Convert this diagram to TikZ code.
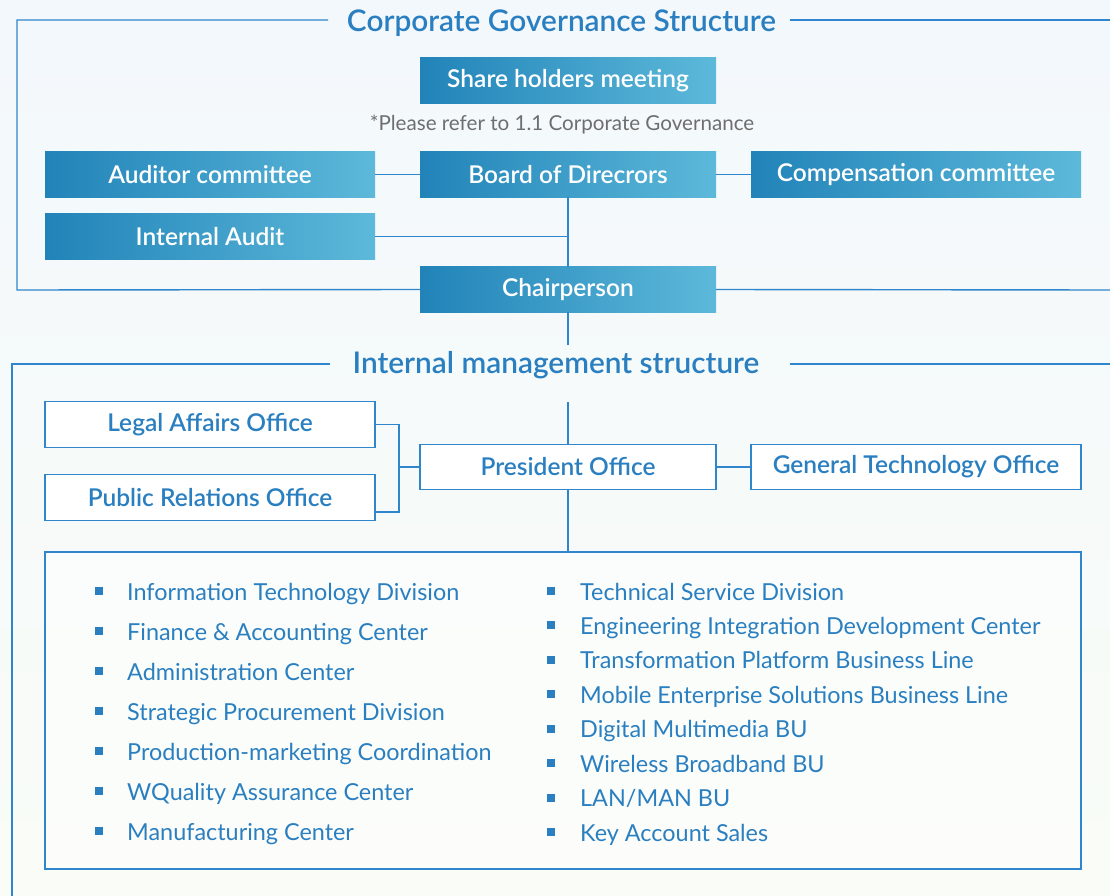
\documentclass[tikz,border=0pt]{standalone}
\usepackage{fontspec}
\setmainfont{Lato}
\IfFontExistsTF{Lato Semibold}{\newfontfamily\semib{Lato Semibold}}{\newfontfamily\semib{Lato}[FakeBold=1.2]}
\definecolor{lineblue}{HTML}{2F86CC}
\definecolor{textblue}{HTML}{2A7FC0}
\definecolor{gdark}{HTML}{2183B8}
\definecolor{glight}{HTML}{5DB9DA}
\definecolor{notegray}{HTML}{6E6E6E}
\definecolor{bgtop}{HTML}{F3F8FC}
\definecolor{bgbot}{HTML}{F9FCF7}
\begin{document}
\begin{tikzpicture}[x=1pt,y=-1pt,
  conn/.style={draw=lineblue, line width=1.4pt},
  frame/.style={draw=lineblue, line width=1.4pt},
  gbox/.style={rectangle, inner sep=0pt, left color=gdark, right color=glight,
    text=white, font=\semib\fontsize{24.5}{28}\selectfont},
  obox/.style={rectangle, inner sep=0pt, draw=lineblue, line width=1.4pt, fill=white,
    text=textblue, font=\semib\fontsize{24.5}{28}\selectfont},
  wide/.style={minimum width=330pt, minimum height=45.5pt},
  mid/.style={minimum width=296pt, minimum height=45.5pt},
  title/.style={anchor=base, text=textblue, font=\semib\fontsize{29.8}{34}\selectfont, inner sep=0pt},
  note/.style={anchor=base, text=notegray, font=\fontsize{20.6}{24}\selectfont, inner sep=0pt},
  item/.style={anchor=base west, text=textblue, font=\fontsize{23.4}{27}\selectfont, inner sep=0pt},
  bullet/.style={rectangle, fill=textblue, minimum width=8pt, minimum height=8pt, inner sep=0pt}
]
\useasboundingbox (0,0) rectangle (1110,896);
\shade[top color=bgtop, bottom color=bgbot] (0,0) rectangle (1110,896);

% ---------- Corporate Governance Structure ----------
\node[title] (t1) at (561.5,31.5) {Corporate Governance Structure};
\coordinate (f1a) at (328,20);
\coordinate (f1b) at (17,20);
\coordinate (f1c) at (17,290);
\coordinate (f1d) at (790,20);
\coordinate (f1e) at (1110,20);
\coordinate (f1f) at (1110,290);

\node[gbox, mid] (share) at (568,80.5) {Share holders meeting};
\node[note] (ref) at (562,130.5) {*Please refer to 1.1 Corporate Governance};
\node[gbox, wide] (aud) at (210,174.5) {Auditor committee};
\node[gbox, mid] (board) at (568,174.5) {Board of Direcrors};
\node[gbox, wide] (comp) at (916,174.5) {Compensation committee};
\node[gbox, wide] (ia) at (210,236.5) {Internal Audit};
\node[gbox, mid] (chair) at (568,289.5) {Chairperson};

\draw[frame] (chair.west) -- (f1c) -- (f1b) -- (f1a);
\draw[frame] (f1d) -- (f1e);
\draw[frame] (chair.east) -- (f1f);

\draw[conn] (aud.east) -- (board.west);
\draw[conn] (board.east) -- (comp.west);
\draw[conn] (board.south) -- (chair.north);
\draw[conn] (ia.east) -- (ia.east -| board.south);

% ---------- Internal management structure ----------
\node[title] (t2) at (556,373) {Internal management structure};
\coordinate (f2a) at (330,364);
\coordinate (f2b) at (12,364);
\coordinate (f2c) at (12,896);
\coordinate (f2d) at (790,364);
\coordinate (f2e) at (1110,364);
\draw[frame] (f2a) -- (f2b) -- (f2c);
\draw[frame] (f2d) -- (f2e);

\coordinate (c1) at (568,345);
\coordinate (c2) at (568,402);
\draw[conn] (chair.south) -- (c1);

\node[obox, wide] (legal) at (210,424.5) {Legal Affairs Office};
\node[obox, wide] (pr) at (210,497.5) {Public Relations Office};
\node[obox, mid] (pres) at (568,467) {President Office};
\node[obox, wide] (gen) at (916,467) {General Technology Office};
\node[rectangle, draw=lineblue, line width=1.4pt, fill=white, fill opacity=0.5,
      minimum width=1036pt, minimum height=317pt, inner sep=0pt] (list) at (563,710.5) {};

\draw[conn] (c2) -- (pres.north);
\coordinate (brk) at (399,467);
\coordinate (prarm) at (375,512);
\draw[conn] (legal.east) -| (brk) |- (prarm);
\draw[conn] (brk) -- (pres.west);
\draw[conn] (pres.east) -- (gen.west);
\draw[conn] (pres.south) -- (pres.south |- list.north);

% ---------- list ----------
\foreach \t [count=\i from 0] in {Information Technology Division,
  Finance \& Accounting Center, Administration Center,
  Strategic Procurement Division, Production-marketing Coordination,
  WQuality Assurance Center, Manufacturing Center}{
  \node[bullet] (lb\i) at (99,591+40*\i) {};
  \node[item] (lt\i) at (127,600+40*\i) {\t};
}
\foreach \t [count=\i from 0] in {Technical Service Division,
  Engineering Integration Development Center,
  Transformation Platform Business Line,
  Mobile Enterprise Solutions Business Line,
  Digital Multimedia BU, Wireless Broadband BU, LAN/MAN BU, Key Account Sales}{
  \node[bullet] (rb\i) at (551,591+34.45*\i) {};
  \node[item] (rt\i) at (580,600+34.45*\i) {\t};
}
\end{tikzpicture}
\end{document}
